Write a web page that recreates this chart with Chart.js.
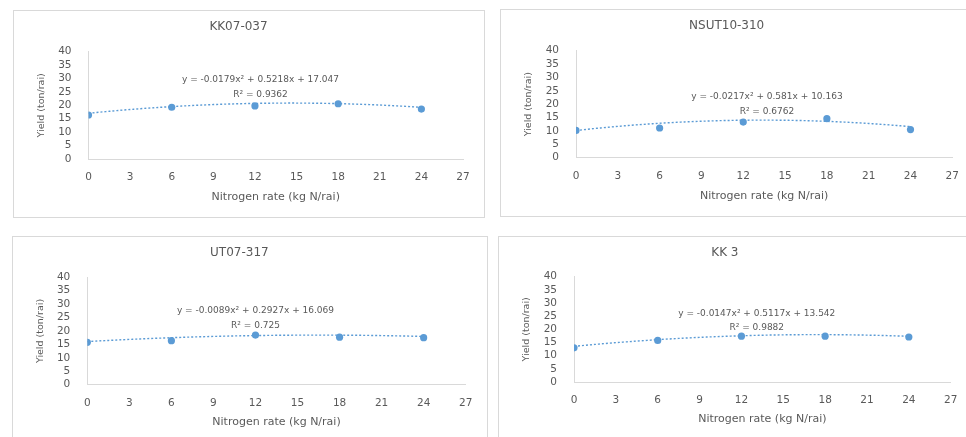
<!DOCTYPE html>
<html>
<head>
<meta charset="utf-8">
<script src="https://cdn.jsdelivr.net/npm/chart.js@4"></script>
<style>
  html, body { margin: 0; padding: 0; background: #ffffff; overflow: hidden; }
  body { width: 966px; height: 437px; position: relative; }
  .panel { position: absolute; border: 1px solid #d9d9d9; background: #ffffff; }
  .panel canvas { position: absolute; left: 0; top: 0; }
</style>
</head>
<body>
<div class="panel" style="left:13px;top:10px;width:470px;height:206px"><canvas id="chartKK07037"></canvas></div>
<div class="panel" style="left:500px;top:9px;width:473px;height:206px"><canvas id="chartNSUT10310"></canvas></div>
<div class="panel" style="left:12px;top:236px;width:474px;height:240px"><canvas id="chartUT07317"></canvas></div>
<div class="panel" style="left:498px;top:236px;width:473px;height:240px"><canvas id="chartKK3"></canvas></div>

<script>
//---------------
// Datos
//---------------
const nitrogenRates = [0, 6, 12, 18, 24];

const yieldKK07037 = [16.4, 19.3, 19.8, 20.6, 18.6];
const yieldNSUT10310 = [10.2, 11.1, 13.3, 14.6, 10.5];
const yieldUT07317 = [15.8, 16.4, 18.5, 17.7, 17.5];
const yieldKK3 = [13.0, 15.8, 17.4, 17.4, 17.1];

// coeficientes de la tendencia polinómica [a, b, c] -> y = ax² + bx + c
const trendKK07037 = [-0.0179, 0.5218, 17.047];
const trendNSUT10310 = [-0.0217, 0.581, 10.163];
const trendUT07317 = [-0.0089, 0.2927, 16.069];
const trendKK3 = [-0.0147, 0.5117, 13.542];

const r2KK07037 = '0.9362';
const r2NSUT10310 = '0.6762';
const r2UT07317 = '0.725';
const r2KK3 = '0.9882';

const xMax = 27, xStep = 3;
const yMax = 40, yStep = 5;

//---------------
// Configuración general
//---------------
Chart.defaults.font.family = "'DejaVu Sans', sans-serif";
Chart.defaults.color = '#595959';

const azul = '#5b9bd5';
const gris = '#d9d9d9';

function textoEcuacion(c) {
  const fmt = (v) => String(Math.abs(v));
  const signo = (v) => (v < 0 ? '- ' : '+ ');
  return 'y = ' + (c[0] < 0 ? '-' : '') + fmt(c[0]) + 'x² ' +
    signo(c[1]) + fmt(c[1]) + 'x ' + signo(c[2]) + fmt(c[2]);
}

function curvaTendencia(c) {
  const pts = [];
  for (let x = nitrogenRates[0]; x <= nitrogenRates[nitrogenRates.length - 1] + 1e-9; x += 0.25) {
    pts.push({ x: x, y: c[0] * x * x + c[1] * x + c[2] });
  }
  return pts;
}

// etiqueta de la ecuación y R² sobre el gráfico
const etiquetaTendencia = {
  id: 'etiquetaTendencia',
  afterDatasetsDraw(chart, args, opts) {
    const { ctx, scales } = chart;
    const x = scales.x.getPixelForValue(opts.x);
    ctx.save();
    ctx.fillStyle = '#595959';
    ctx.font = "9px 'DejaVu Sans', sans-serif";
    ctx.textAlign = 'center';
    ctx.textBaseline = 'middle';
    ctx.fillText(opts.ecuacion, x, scales.y.getPixelForValue(opts.yEc));
    ctx.fillText('R² = ' + opts.r2, x, scales.y.getPixelForValue(opts.yR2));
    ctx.restore();
  }
};

function crearGrafico(id, titulo, valores, coef, r2, geo) {
  const canvas = document.getElementById(id);
  canvas.width = geo.w;
  canvas.height = geo.h;
  canvas.style.width = geo.w + 'px';
  canvas.style.height = geo.h + 'px';

  return new Chart(canvas, {
    type: 'scatter',
    data: {
      datasets: [
        {
          label: titulo,
          data: nitrogenRates.map((x, i) => ({ x: x, y: valores[i] })),
          backgroundColor: azul,
          borderColor: azul,
          pointRadius: 3.6,
          pointBorderWidth: 0
        },
        {
          label: 'Poly.',
          data: curvaTendencia(coef),
          showLine: true,
          borderColor: azul,
          borderWidth: 1.4,
          borderDash: [2, 2],
          pointRadius: 0,
          fill: false
        }
      ]
    },
    options: {
      responsive: false,
      animation: false,
      layout: { padding: { left: 0, top: 0, bottom: 0, right: geo.w - geo.plot[2] } },
      plugins: {
        legend: { display: false },
        tooltip: { enabled: false },
        title: {
          display: true,
          text: titulo,
          color: '#595959',
          font: { size: 12, weight: 'normal', lineHeight: 1.2 },
          padding: { top: geo.titleY - 7.2, bottom: geo.plot[1] - geo.titleY - 7.2 }
        },
        etiquetaTendencia: {
          ecuacion: textoEcuacion(coef),
          r2: r2,
          x: geo.label[0],
          yEc: geo.label[1],
          yR2: geo.label[2]
        }
      },
      scales: {
        x: {
          type: 'linear',
          min: 0,
          max: xMax,
          grid: { display: false, drawTicks: false },
          border: { display: true, color: gris, width: 1 },
          ticks: { stepSize: xStep, padding: 12, autoSkip: false, maxRotation: 0, font: { size: 10.5 }, color: '#595959' },
          title: {
            display: true,
            text: 'Nitrogen rate (kg N/rai)',
            color: '#595959',
            font: { size: 11 },
            padding: { top: 13, bottom: 13 }
          },
          afterFit: (s) => { s.height = geo.h - geo.plot[3]; }
        },
        y: {
          min: 0,
          max: yMax,
          grid: { display: false, drawTicks: false },
          border: { display: true, color: gris, width: 1 },
          ticks: { stepSize: yStep, padding: 17, autoSkip: false, font: { size: 10.5 }, color: '#595959' },
          title: {
            display: true,
            text: 'Yield (ton/rai)',
            color: '#595959',
            font: { size: 9.5 },
            padding: { top: 22, bottom: 22 }
          },
          afterFit: (s) => { s.width = geo.plot[0]; }
        }
      }
    },
    plugins: [etiquetaTendencia]
  });
}

//---------------
// Gráficos
//---------------
crearGrafico('chartKK07037', 'KK07-037', yieldKK07037, trendKK07037, r2KK07037,
  { w: 470, h: 206, plot: [74.5, 40.7, 449, 148], titleY: 16, label: [12.4, 29.4, 23.9] });

crearGrafico('chartNSUT10310', 'NSUT10-310', yieldNSUT10310, trendNSUT10310, r2NSUT10310,
  { w: 473, h: 206, plot: [75, 40.7, 451.3, 147.7], titleY: 16, label: [13.7, 22.8, 17.2] });

crearGrafico('chartUT07317', 'UT07-317', yieldUT07317, trendUT07317, r2UT07317,
  { w: 474, h: 205, plot: [74.3, 40.3, 452.7, 147.7], titleY: 16.3, label: [12.0, 27.6, 21.9] });

crearGrafico('chartKK3', 'KK 3', yieldKK3, trendKK3, r2KK3,
  { w: 473, h: 202, plot: [75, 39.7, 451.7, 145], titleY: 15.7, label: [13.1, 26.1, 20.6] });
</script>
</body>
</html>
